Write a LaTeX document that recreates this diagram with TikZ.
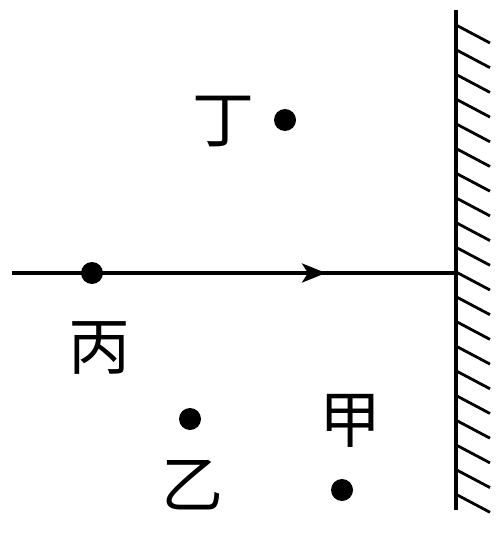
\documentclass[tikz,border=0pt]{standalone}
\usepackage{fontspec}
\newfontfamily\cjk{Noto Sans CJK SC}
\usetikzlibrary{arrows.meta,positioning}

\begin{document}
\begin{tikzpicture}[x=1pt,y=-1pt, every node/.style={font=\cjk\fontsize{62}{62}\selectfont,inner sep=0pt}, dot/.style={circle,fill,minimum size=22pt,inner sep=0pt}, ray/.style={line width=3.5pt}, arr/.style={ray,-{Stealth[length=24pt,width=19pt,inset=6pt]}}, hatch/.style={line width=2.8pt}]
\useasboundingbox (0,0) rectangle (499,540);
% mirror
\coordinate (walltop) at (456,10);
\coordinate (wallbot) at (456,510);
\draw[ray] (walltop)--(wallbot);
\foreach \k in {0,...,19}
  \draw[hatch] (456,25+24.7*\k) -- ++(34,18);
% incident ray
\coordinate (start) at (12,273);
\coordinate (tip) at (326,273);
\coordinate (hit) at (456,273);
\draw[ray] (start)--(hit);
\draw[arr] (start)--(tip);
% points
\node[dot] (bing) at (92,273) {};
\node[dot] (yi) at (190,419) {};
\node[dot] (jia) at (342,490) {};
\node[dot] (ding) at (285,120) {};
\node (binglbl) at (99,348) {丙};
\node (yilbl) at (192,485) {乙};
\node (jialbl) at (350,421) {甲};
\node (dinglbl) at (223,122) {丁};
\end{tikzpicture}
\end{document}
